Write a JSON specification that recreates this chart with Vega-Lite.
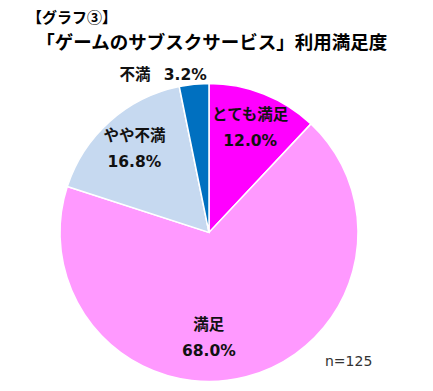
{
  "$schema": "https://vega.github.io/schema/vega-lite/v6.json",
  "width": 433,
  "height": 391,
  "autosize": {"type": "fit", "contains": "padding"},
  "padding": {"left": 0, "right": 15, "top": 16, "bottom": 0},
  "background": "white",
  "title": {
    "text": "【グラフ③】",
    "subtitle": "\u200b\u2002「ゲームのサブスクサービス」利用満足度",
    "anchor": "start",
    "frame": "group",
    "dx": 27,
    "font": "Noto Sans CJK JP",
    "fontSize": 15,
    "fontWeight": "bold",
    "color": "#000000",
    "subtitleFont": "Noto Sans CJK JP",
    "subtitleFontSize": 18.5,
    "subtitleFontWeight": "bold",
    "subtitleColor": "#000000",
    "subtitlePadding": 8,
    "offset": 16
  },
  "data": {
    "values": [
      {"cat": "とても満足", "pct": 12.0, "ord": 1},
      {"cat": "満足", "pct": 68.0, "ord": 2},
      {"cat": "やや不満", "pct": 16.8, "ord": 3},
      {"cat": "不満", "pct": 3.2, "ord": 4}
    ]
  },
  "transform": [
    {"calculate": "datum.cat + '\\n' + format(datum.pct, '.1f') + '%'", "as": "label"},
    {"calculate": "datum.cat + '\u2002 ' + format(datum.pct, '.1f') + '%'", "as": "label1"}
  ],
  "encoding": {
    "theta": {"field": "pct", "type": "quantitative", "stack": true},
    "order": {"field": "ord", "type": "quantitative"}
  },
  "layer": [
    {
      "mark": {"type": "arc", "outerRadius": 149, "stroke": "white", "strokeWidth": 1.5},
      "encoding": {
        "color": {
          "field": "cat",
          "type": "nominal",
          "scale": {
            "domain": ["とても満足", "満足", "やや不満", "不満"],
            "range": ["#FF00FF", "#FF99FF", "#C6D9F0", "#0070C0"]
          },
          "legend": null
        }
      }
    },
    {
      "mark": {"type": "text", "radius": 112, "dy": -13, "lineBreak": "\n", "lineHeight": 26, "fontSize": 15.5, "fontWeight": "bold", "font": "DejaVu Sans, Noto Sans CJK JP", "color": "#111111"},
      "encoding": {
        "text": {"condition": {"test": "datum.cat == 'とても満足' || datum.cat == 'やや不満'", "field": "label"}, "value": ""}
      }
    },
    {
      "mark": {"type": "text", "radius": 104, "dx": -26, "dy": -8, "lineBreak": "\n", "lineHeight": 26, "fontSize": 15.5, "fontWeight": "bold", "font": "DejaVu Sans, Noto Sans CJK JP", "color": "#111111"},
      "encoding": {
        "text": {"condition": {"test": "datum.cat == '満足'", "field": "label"}, "value": ""}
      }
    },
    {
      "mark": {"type": "text", "radius": 158, "dx": -30, "fontSize": 15.5, "fontWeight": "bold", "font": "DejaVu Sans, Noto Sans CJK JP", "color": "#111111"},
      "encoding": {
        "text": {"condition": {"test": "datum.cat == '不満'", "field": "label1"}, "value": ""}
      }
    },
    {
      "data": {"values": [{"note": "n=125"}]},
      "mark": {"type": "text", "fontSize": 14, "font": "DejaVu Sans", "color": "#333333", "align": "left", "x": {"expr": "width - 93"}, "y": {"expr": "height - 29"}},
      "encoding": {"text": {"field": "note", "type": "nominal"}, "theta": null, "order": null}
    }
  ]
}
